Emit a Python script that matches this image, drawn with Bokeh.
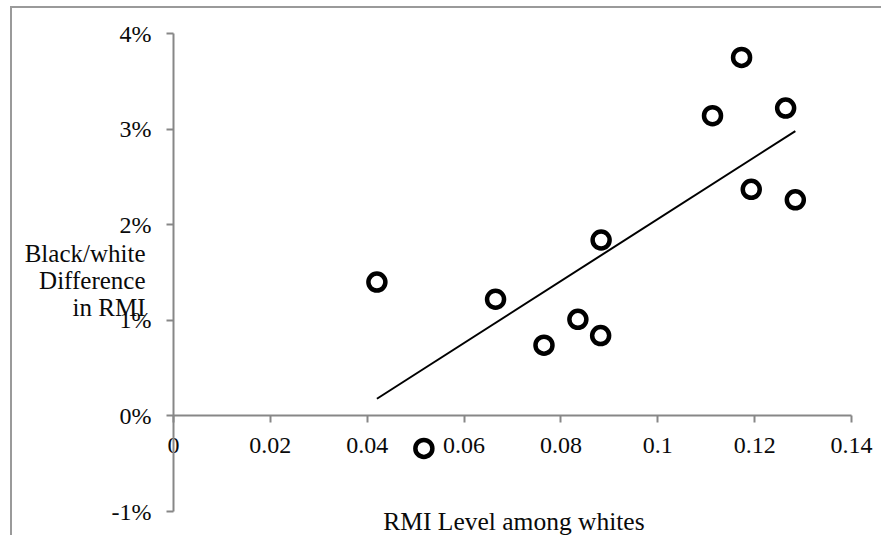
import numpy as np
from bokeh.plotting import figure
from bokeh.models import Label, FixedTicker, Range1d
from bokeh.embed import file_html
from bokeh.resources import INLINE

# Data
rmi_white = [0.0420, 0.0517, 0.0665, 0.0765, 0.0835, 0.0882, 0.0883, 0.1113, 0.1173, 0.1193, 0.1264, 0.1284]
bw_diff = [0.0140, -0.0034, 0.0122, 0.0074, 0.0101, 0.0084, 0.0184, 0.0314, 0.0375, 0.0237, 0.0322, 0.0226]

x_ticks = [0, 0.02, 0.04, 0.06, 0.08, 0.1, 0.12, 0.14]
x_tick_labels = ["0", "0.02", "0.04", "0.06", "0.08", "0.1", "0.12", "0.14"]
y_ticks = [-0.01, 0, 0.01, 0.02, 0.03, 0.04]
y_tick_labels = ["-1%", "0%", "1%", "2%", "3%", "4%"]

FONT = "Liberation Serif"
AXIS_COLOR = "#878787"
TEXT_COLOR = "#0a0a0a"

# canvas placed at page (12, 8); frame fills the whole canvas
W, H = 871, 529
# pixel layout of the axes on the page
X0_PX, X1_PX = 173.0, 851.0      # x = 0 and x = 0.14
Y4_PX, YM1_PX = 33.0, 511.0      # y = 4% and y = -1%
CANVAS_LEFT, CANVAS_TOP = 12.0, 8.0
sx = (X1_PX - X0_PX) / 0.14
sy = (YM1_PX - Y4_PX) / 0.05
x_start = (CANVAS_LEFT - X0_PX) / sx
x_end = x_start + W / sx
y_end = 0.04 + (Y4_PX - CANVAS_TOP) / sy
y_start = y_end - H / sy

p = figure(width=W, height=H, output_backend="svg", toolbar_location=None,
           x_range=Range1d(x_start, x_end), y_range=Range1d(y_start, y_end),
           min_border=0, min_border_left=0, min_border_right=0,
           min_border_top=0, min_border_bottom=0, title=None)
p.styles = {"border-left": "2px solid #9a9a9a", "border-top": "2px solid #9a9a9a",
            "margin-left": "10px", "margin-top": "6px"}
p.outline_line_color = None
p.grid.visible = False
p.background_fill_color = "white"
p.border_fill_color = "white"

# x axis crossing at y = 0
xa = p.xaxis[0]
xa.fixed_location = 0
xa.bounds = (x_ticks[0], x_ticks[-1])
xa.ticker = FixedTicker(ticks=x_ticks)
xa.major_label_overrides = dict(zip(x_ticks, x_tick_labels))
xa.axis_line_color = AXIS_COLOR
xa.axis_line_width = 2
xa.major_tick_line_color = AXIS_COLOR
xa.major_tick_line_width = 2
xa.major_tick_out = 7
xa.major_tick_in = 0
xa.minor_tick_line_color = None
xa.major_label_standoff = 15
xa.major_label_text_font = FONT
xa.major_label_text_font_size = "24px"
xa.major_label_text_color = TEXT_COLOR

# y axis at x = 0
ya = p.yaxis[0]
ya.fixed_location = 0
ya.bounds = (y_ticks[0], y_ticks[-1])
ya.ticker = FixedTicker(ticks=y_ticks)
ya.major_label_overrides = dict(zip(y_ticks, y_tick_labels))
ya.axis_line_color = AXIS_COLOR
ya.axis_line_width = 2
ya.major_tick_line_color = AXIS_COLOR
ya.major_tick_line_width = 2
ya.major_tick_out = 7
ya.major_tick_in = 0
ya.minor_tick_line_color = None
ya.major_label_standoff = 15
ya.major_label_text_font = FONT
ya.major_label_text_font_size = "24px"
ya.major_label_text_color = TEXT_COLOR

# Linear trend line (least squares fit of the points)
slope, intercept = np.polyfit(rmi_white, bw_diff, 1)
tx = [min(rmi_white), max(rmi_white)]
ty = [slope * v + intercept for v in tx]
p.line(tx, ty, line_color="black", line_width=2)

p.scatter(rmi_white, bw_diff, marker="circle", size=17, fill_color="white",
          line_color="black", line_width=4.5)

ylab = Label(x=0, y=0.0142, x_offset=-28, text="Black/white\nDifference\nin RMI",
             text_align="right", text_baseline="middle", text_font=FONT,
             text_font_size="25px", text_color=TEXT_COLOR, text_line_height=1.0)
p.add_layout(ylab)

xlab = Label(x=0.0703, y=-0.01, y_offset=-10, text="RMI Level among whites",
             text_align="center", text_baseline="middle", text_font=FONT,
             text_font_size="25.5px", text_color=TEXT_COLOR)
p.add_layout(xlab)

open("out.html", "w").write(file_html(p, INLINE))
